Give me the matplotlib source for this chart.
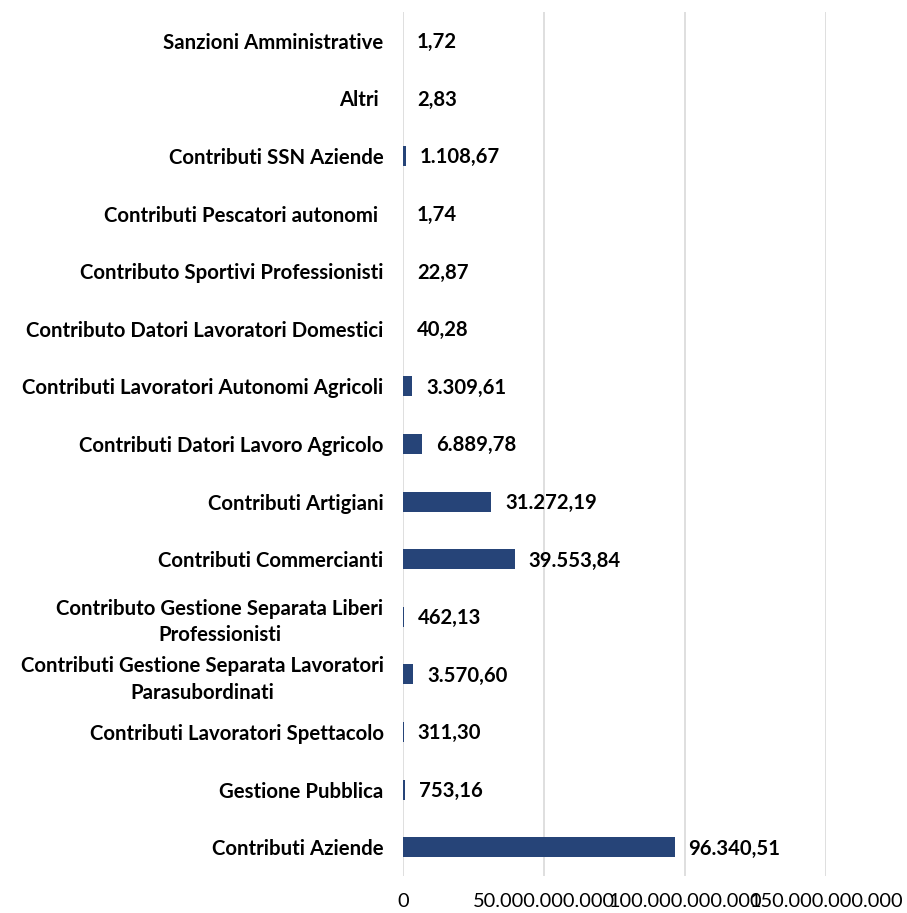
import matplotlib.pyplot as plt
from matplotlib.ticker import FuncFormatter

# categories, top to bottom
categories = [
    'Sanzioni Amministrative',
    'Altri ',
    'Contributi SSN Aziende',
    'Contributi Pescatori autonomi ',
    'Contributo Sportivi Professionisti',
    'Contributo Datori Lavoratori Domestici',
    'Contributi Lavoratori Autonomi Agricoli',
    'Contributi Datori Lavoro Agricolo',
    'Contributi Artigiani',
    'Contributi Commercianti',
    'Contributo Gestione Separata Liberi\nProfessionisti',
    'Contributi Gestione Separata Lavoratori\nParasubordinati',
    'Contributi Lavoratori Spettacolo',
    'Gestione Pubblica',
    'Contributi Aziende',
]
# values in millions of euro (labels), plotted in euro
values_mln = [1.72, 2.83, 1108.67, 1.74, 22.87, 40.28, 3309.61, 6889.78,
              31272.19, 39553.84, 462.13, 3570.60, 311.30, 753.16, 96340.51]
x_ticks = [0, 50e9, 100e9, 150e9]


def it_fmt(v, dec=2):
    s = f'{v:,.{dec}f}'
    return s.replace(',', 'X').replace('.', ',').replace('X', '.')


plt.rcParams['font.family'] = ['Lato', 'DejaVu Sans']

fig = plt.figure(figsize=(9.07, 9.13), dpi=100)
ax = fig.add_axes([403 / 907, 1 - 876 / 913, (826 - 403) / 907, (876 - 12) / 913])

n = len(categories)
ypos = list(range(n))[::-1]
vals = [v * 1e6 for v in values_mln]
ax.barh(ypos, vals, height=0.35, color='#264478', zorder=3)

for y, v, lab in zip(ypos, vals, values_mln):
    ax.annotate(it_fmt(lab), (v, y), xytext=(10, -1), textcoords='offset points',
                va='center', ha='left', fontsize=14.6, fontweight='bold')

ax.set_yticks(ypos)
ax.set_yticklabels(categories, fontsize=14.7, fontweight='bold',
                   multialignment='center', linespacing=1.4)
ax.set_ylim(-0.5, n - 0.5)
ax.set_xlim(0, 150e9)
ax.set_xticks(x_ticks)
ax.xaxis.set_major_formatter(FuncFormatter(lambda v, p: it_fmt(v, 0)))
ax.tick_params(axis='x', length=0, pad=12, labelsize=14.4)
ax.tick_params(axis='y', length=0, pad=14)
ax.grid(axis='x', color='#d9d9d9', linewidth=1.2, zorder=0)
for s in ax.spines.values():
    s.set_visible(False)

fig.savefig('out.png', dpi=100)
